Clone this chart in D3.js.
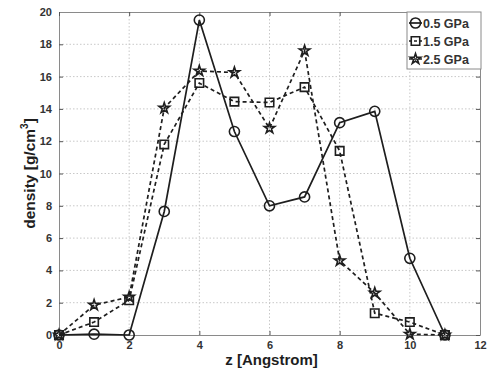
<!DOCTYPE html>
<html>
<head>
<meta charset="utf-8">
<script src="https://cdn.jsdelivr.net/npm/d3@7"></script>
<style>
  body { margin: 0; background: #fff; }
  text { font-family: "Liberation Sans", Arial, sans-serif; }
</style>
</head>
<body>
<div id="chart"></div>
<script>
// data
var zValues = [0, 1, 2, 3, 4, 5, 6, 7, 8, 9, 10, 11];
var seriesNames = ["0.5 GPa", "1.5 GPa", "2.5 GPa"];
var density05 = [0, 0.05, 0, 7.65, 19.5, 12.6, 8.0, 8.55, 13.15, 13.85, 4.75, 0];
var density15 = [0, 0.8, 2.15, 11.8, 15.6, 14.45, 14.4, 15.35, 11.4, 1.35, 0.8, 0];
var density25 = [0, 1.85, 2.35, 14.05, 16.35, 16.25, 12.8, 17.6, 4.6, 2.6, 0.05, 0];
var xTicks = [0, 2, 4, 6, 8, 10, 12];
var yTicks = [0, 2, 4, 6, 8, 10, 12, 14, 16, 18, 20];

function init(){
	var w = 489, h = 374;
	var left = 59, right = 480, top = 12, bottom = 335;
	var ink = "#1e1e1e";

	var xScale = d3.scaleLinear().domain([0, 12]).range([left, right]);
	var yScale = d3.scaleLinear().domain([0, 20]).range([bottom, top]);

	var svg = d3.select("#chart").append("svg")
				.attr("width", w)
				.attr("height", h);

	// dotted grid
	svg.append("g").selectAll("line")
		.data(xTicks.slice(1, -1))
		.enter().append("line")
		.attr("x1", function(d){ return xScale(d); })
		.attr("x2", function(d){ return xScale(d); })
		.attr("y1", top).attr("y2", bottom)
		.attr("stroke", "#c8c8c8")
		.attr("stroke-dasharray", "1.5,2");
	svg.append("g").selectAll("line")
		.data(yTicks.slice(1, -1))
		.enter().append("line")
		.attr("y1", function(d){ return yScale(d); })
		.attr("y2", function(d){ return yScale(d); })
		.attr("x1", left).attr("x2", right)
		.attr("stroke", "#c8c8c8")
		.attr("stroke-dasharray", "1.5,2");

	// axes with inward ticks
	var xAxis = d3.axisBottom(xScale).tickValues(xTicks).tickSizeInner(-4).tickSizeOuter(0).tickPadding(6);
	var yAxis = d3.axisLeft(yScale).tickValues(yTicks).tickSizeInner(-4).tickSizeOuter(0).tickPadding(7);
	var xTop = d3.axisTop(xScale).tickValues(xTicks).tickSizeInner(-4).tickSizeOuter(0).tickFormat("");
	var yRight = d3.axisRight(yScale).tickValues(yTicks).tickSizeInner(-4).tickSizeOuter(0).tickFormat("");

	[[xAxis, "translate(0," + bottom + ")"], [yAxis, "translate(" + left + ",0)"],
	 [xTop, "translate(0," + top + ")"], [yRight, "translate(" + right + ",0)"]].forEach(function(a){
		var g = svg.append("g").attr("transform", a[1]).call(a[0]);
		g.select(".domain").attr("stroke", "#8a8a8a");
		g.selectAll(".tick line").attr("stroke", "#555");
		g.selectAll("text")
			.attr("font-size", 11)
			.attr("font-weight", "bold")
			.attr("fill", "#333")
			.style("font-family", "'Liberation Sans', Arial, sans-serif");
	});

	// axis titles
	svg.append("text")
		.attr("x", (left + right) / 2 + 2)
		.attr("y", 365)
		.attr("text-anchor", "middle")
		.attr("font-size", 15)
		.attr("font-weight", "bold")
		.attr("fill", ink)
		.text("z [Angstrom]");

	var yl = svg.append("text")
		.attr("transform", "translate(35," + ((top + bottom) / 2) + ") rotate(-90)")
		.attr("text-anchor", "middle")
		.attr("font-size", 15.5)
		.attr("font-weight", "bold")
		.attr("fill", ink);
	yl.append("tspan").text("density [g/cm");
	yl.append("tspan").attr("font-size", 10).attr("dy", -7).text("3");
	yl.append("tspan").attr("dy", 7).text("]");

	// series
	var series = [
		{name: seriesNames[0], values: density05, dash: null, symbol: d3.symbolCircle, size: 80},
		{name: seriesNames[1], values: density15, dash: "4,3", symbol: d3.symbolSquare, size: 72},
		{name: seriesNames[2], values: density25, dash: "4,3", symbol: d3.symbolStar, size: 34}
	];

	var line = d3.line()
		.x(function(d, i){ return xScale(zValues[i]); })
		.y(function(d){ return yScale(d); });

	series.forEach(function(s){
		svg.append("path")
			.attr("d", line(s.values))
			.attr("fill", "none")
			.attr("stroke", ink)
			.attr("stroke-width", 1.7)
			.attr("stroke-dasharray", s.dash);

		svg.append("g").selectAll("path")
			.data(s.values)
			.enter().append("path")
			.attr("transform", function(d, i){
				return "translate(" + xScale(zValues[i]) + "," + yScale(d) + ")";
			})
			.attr("d", d3.symbol().type(s.symbol).size(s.size))
			.attr("fill", "none")
			.attr("stroke", ink)
			.attr("stroke-width", 1.6);
	});

	// legend
	var lg = svg.append("g");
	lg.append("rect")
		.attr("x", 407).attr("y", 12)
		.attr("width", 74).attr("height", 57)
		.attr("fill", "#fff")
		.attr("stroke", "#8a8a8a");
	series.forEach(function(s, i){
		var cy = 23 + i * 18;
		lg.append("line")
			.attr("x1", 409).attr("x2", 422)
			.attr("y1", cy).attr("y2", cy)
			.attr("stroke", ink)
			.attr("stroke-width", 1.7)
			.attr("stroke-dasharray", s.dash ? "3,2" : null);
		lg.append("path")
			.attr("transform", "translate(415.5," + cy + ")")
			.attr("d", d3.symbol().type(s.symbol).size(s.size))
			.attr("fill", "none")
			.attr("stroke", ink)
			.attr("stroke-width", 1.6);
		lg.append("text")
			.attr("x", 423).attr("y", cy + 4.5)
			.attr("font-size", 12.5)
			.attr("font-weight", "bold")
			.attr("fill", "#333")
			.text(s.name);
	});
}

window.onload = init;
</script>
</body>
</html>
